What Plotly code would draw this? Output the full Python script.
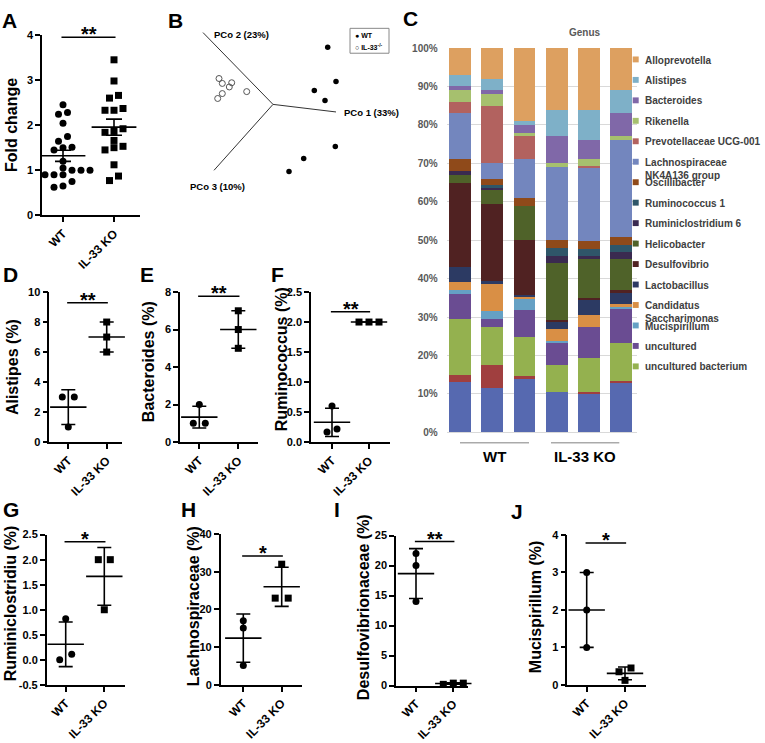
import numpy as np
import plotly.graph_objects as go

W, H = 765, 743
FONT = "Liberation Sans, Arial, Helvetica, sans-serif"

groups = ["WT", "IL-33 KO"]

# ---------------- Panel A : fold change (mean +/- SEM) ----------------
fold_change_wt = [2.45, 2.28, 2.24, 2.04, 1.75, 1.64, 1.51, 1.5, 1.45, 1.2, 1.05,
                  1.0, 1.0, 1.0, 0.9, 0.9, 0.9, 0.88, 0.75, 0.65, 0.62]
fold_change_ko = [3.45, 2.98, 2.66, 2.6, 2.37, 2.33, 2.33, 1.92, 1.86, 1.84, 1.66,
                  1.53, 1.5, 1.45, 1.12, 0.87, 0.77]

# ---------------- Panels D-J : relative abundance (mean +/- SD) ----------------
alistipes_wt = [3.0, 3.0, 1.0]
alistipes_ko = [8.0, 7.0, 6.0]
bacteroides_wt = [2.0, 1.0, 1.0]
bacteroides_ko = [7.0, 6.0, 5.0]
ruminococcus_wt = [0.6, 0.22, 0.17]
ruminococcus_ko = [2.0, 2.0, 2.0]
ruminiclostridium_wt = [0.82, 0.11, 0.0]
ruminiclostridium_ko = [2.0, 2.0, 1.0]
lachnospiraceae_wt = [17.0, 15.1, 5.1]
lachnospiraceae_ko = [32.0, 23.0, 23.0]
desulfovibrionaceae_wt = [22.0, 20.0, 14.0]
desulfovibrionaceae_ko = [0.4, 0.4, 0.2]
mucispirillum_wt = [3.0, 2.0, 1.0]
mucispirillum_ko = [0.45, 0.35, 0.12]

# significance bar heights (data units) and labels
sig_heights = {"A": 3.95, "D": 9.28, "E": 7.77, "F": 2.17, "G": 2.36, "H": 34.2, "I": 24.0, "J": 3.79}
sig_labels = {"A": "**", "D": "**", "E": "**", "F": "**", "G": "*", "H": "*", "I": "**", "J": "*"}

# ---------------- Panel B : PCoA projection ----------------
pcoa_axis_names = ["PCo 1 (33%)", "PCo 2 (23%)", "PCo 3 (10%)"]
pcoa_axis_end_x = [0.63, -0.70, -0.59]
pcoa_axis_end_y = [-0.077, 0.73, -0.67]
pcoa_wt_x = [0.547, 0.63, 0.413, 0.52, 0.623, 0.307, 0.16]
pcoa_wt_y = [0.58, 0.233, 0.14, 0.04, -0.427, -0.55, -0.683]
pcoa_ko_x = [-0.54, -0.507, -0.413, -0.437, -0.263, -0.507, -0.553]
pcoa_ko_y = [0.263, 0.213, 0.22, 0.177, 0.13, 0.11, 0.06]

# ---------------- Panel C : genus composition (%) ----------------
samples = ["WT-1", "WT-2", "WT-3", "KO-1", "KO-2", "KO-3"]
genera = ["Other 1", "Other 2", "uncultured bacterium", "uncultured", "Mucispirillum",
          "Candidatus Saccharimonas", "Lactobacillus", "Desulfovibrio", "Helicobacter",
          "Ruminiclostridium 6", "Ruminococcus 1", "Oscillibacter",
          "Lachnospiraceae NK4A136 group", "Prevotellaceae UCG-001", "Rikenella",
          "Bacteroides", "Alistipes", "Alloprevotella"]
genus_in_legend = [False, False] + [True] * 16
genus_values = [
    [13.0, 11.5, 14.0, 10.5, 10.0, 13.0],   # Other 1
    [2.0, 6.0, 0.7, 0.1, 0.4, 0.3],         # Other 2
    [14.5, 10.0, 10.1, 6.8, 8.9, 9.9],      # uncultured bacterium
    [6.5, 2.0, 7.0, 6.0, 8.1, 9.1],         # uncultured
    [1.0, 2.0, 3.0, 0.4, 0.1, 0.4],         # Mucispirillum
    [2.0, 7.0, 0.3, 3.0, 2.9, 0.7],         # Candidatus Saccharimonas
    [4.0, 0.8, 0.7, 2.0, 4.1, 3.1],         # Lactobacillus
    [22.0, 20.0, 14.2, 0.4, 0.4, 0.5],      # Desulfovibrio
    [2.0, 4.0, 9.0, 14.8, 10.1, 8.0],       # Helicobacter
    [1.0, 0.3, 0.0, 2.0, 0.8, 2.0],         # Ruminiclostridium 6
    [0.0, 0.7, 0.0, 2.0, 2.0, 1.8],         # Ruminococcus 1
    [3.0, 1.7, 2.0, 2.0, 2.0, 2.1],         # Oscillibacter
    [12.0, 4.0, 10.0, 19.0, 19.2, 25.1],    # Lachnospiraceae NK4A136 group
    [3.0, 15.0, 6.0, 0.0, 0.2, 0.0],        # Prevotellaceae UCG-001
    [3.0, 3.0, 1.0, 1.0, 1.8, 1.0],         # Rikenella
    [1.0, 1.0, 2.0, 7.0, 5.0, 6.0],         # Bacteroides
    [3.0, 3.0, 1.0, 7.0, 8.0, 6.0],         # Alistipes
    [7.0, 8.0, 19.0, 16.0, 16.0, 11.0],     # Alloprevotella
]
genus_colors = ["#5669B0", "#A03F3F", "#94B14F", "#6A4C92", "#65A0C4", "#D98F45",
                "#2C3A63", "#502222", "#4F6229", "#3A2A50", "#2F5669", "#8F4A1A",
                "#7386BE", "#B2625F", "#A6C06E", "#8068A8", "#7EB0C8", "#DDA060"]


# ---------------- helpers ----------------
def px_x(x):
    return x / W


def px_y(y):
    return 1 - y / H


def swarm(values, ppu, spacing, tol_px=6.5):
    vals = np.asarray(values, float)
    order = np.argsort(vals, kind="stable")
    offs = np.zeros(len(vals))
    rows, cur = [], [order[0]]
    for i in order[1:]:
        if (vals[i] - vals[cur[0]]) * ppu < tol_px:
            cur.append(i)
        else:
            rows.append(cur)
            cur = [i]
    rows.append(cur)
    for r in rows:
        n = len(r)
        for k, i in enumerate(r):
            offs[i] = (k - (n - 1) / 2) * spacing
    return offs


def ax_names(n):
    s = "" if n == 1 else str(n)
    return "x" + s, "y" + s, "xaxis" + s, "yaxis" + s


fig = go.Figure()
axes = {}
annotations = []
shapes = []


def text(x, y, t, size, **kw):
    d = dict(x=px_x(x), y=px_y(y), xref="paper", yref="paper", text=t, showarrow=False,
             font=dict(family=FONT, size=size, color=kw.pop("color", "black"),
                       weight=kw.pop("weight", "bold")))
    d.update(kw)
    annotations.append(d)


# ---------------- dot plots ----------------
panels = [
    dict(key="A", ax=1, wt=fold_change_wt, ko=fold_change_ko, L=42, R=140, w=63, k=114,
         top=29.5, bot=212.7, yr=[0, 4], dtick=1, fmt=None, err="sem",
         title="Fold change", tx=11, ty=121, spacing=9, mlen=32, cap=8),
    dict(key="D", ax=4, wt=alistipes_wt, ko=alistipes_ko, L=49.3, R=122, w=68.3, k=106.7,
         top=290.7, bot=443.3, yr=[0, 10], dtick=2, fmt=None, err="sd",
         title="Alistipes (%)", tx=12, ty=367, spacing=12, mlen=26, cap=7),
    dict(key="E", ax=5, wt=bacteroides_wt, ko=bacteroides_ko, L=180, R=258, w=199.3, k=238.3,
         top=290.7, bot=443.3, yr=[0, 8], dtick=2, fmt=None, err="sd",
         title="Bacteroides (%)", tx=148, ty=362, spacing=12, mlen=26, cap=7),
    dict(key="F", ax=6, wt=ruminococcus_wt, ko=ruminococcus_ko, L=311, R=390, w=332, k=369,
         top=290.7, bot=443.3, yr=[0, 2.5], dtick=0.5, fmt=".1f", err="sd",
         title="Ruminococcus (%)", tx=281, ty=359, spacing=10, mlen=26, cap=7),
    dict(key="G", ax=7, wt=ruminiclostridium_wt, ko=ruminiclostridium_ko, L=46.7, R=125, w=65.7, k=104.3,
         top=537.3, bot=690, yr=[-0.5, 2.5], dtick=0.5, fmt=".1f", err="sd",
         title="Ruminiclostridiu (%)", tx=10, ty=607, spacing=12, mlen=26, cap=7),
    dict(key="H", ax=8, wt=lachnospiraceae_wt, ko=lachnospiraceae_ko, L=220.7, R=301.7, w=243.3, k=281.7,
         top=536.7, bot=690, yr=[0, 40], dtick=10, fmt=None, err="sd",
         title="Lachnospiraceae (%)", tx=193, ty=610, spacing=13, mlen=26, cap=7),
    dict(key="I", ax=9, wt=desulfovibrionaceae_wt, ko=desulfovibrionaceae_ko, L=396, R=467.7, w=416, k=453.3,
         top=538.3, bot=690.7, yr=[0, 25], dtick=5, fmt=None, err="sd",
         title="Desulfovibrionaceae (%)", tx=363, ty=611, spacing=10, mlen=26, cap=7),
    dict(key="J", ax=10, wt=mucispirillum_wt, ko=mucispirillum_ko, L=567.3, R=645.7, w=586.7, k=625,
         top=537.7, bot=690, yr=[0, 4], dtick=1, fmt=None, err="sd",
         title="Mucispirillum (%)", tx=535, ty=611, spacing=12, mlen=26, cap=7),
]

for p in panels:
    xr, yr_, xa, ya = ax_names(p["ax"])
    unit = p["k"] - p["w"]
    xrange = [(p["L"] - p["w"]) / unit, (p["R"] - p["w"]) / unit]
    ppu = (p["bot"] - p["top"]) / (p["yr"][1] - p["yr"][0])
    for gi, (vals, sym) in enumerate([(p["wt"], "circle"), (p["ko"], "square")]):
        offs = swarm(vals, ppu, p["spacing"] / unit)
        fig.add_trace(go.Scatter(x=gi + offs, y=vals, mode="markers",
                                 marker=dict(symbol=sym, size=7, color="black", line=dict(width=0)),
                                 xaxis=xr, yaxis=yr_, showlegend=False, cliponaxis=False,
                                 name=groups[gi]))
    means, errs = [], []
    for vals in (p["wt"], p["ko"]):
        v = np.asarray(vals, float)
        means.append(v.mean())
        sd = v.std(ddof=1)
        errs.append(sd / np.sqrt(len(v)) if p["err"] == "sem" else sd)
    fig.add_trace(go.Scatter(x=[0, 1], y=means, mode="markers",
                             marker=dict(symbol="line-ew", size=p["mlen"], color="black",
                                         line=dict(width=1.6, color="black")),
                             error_y=dict(type="data", array=errs, visible=True, thickness=1.6,
                                          width=p["cap"], color="black"),
                             xaxis=xr, yaxis=yr_, showlegend=False, cliponaxis=False))
    sig = sig_heights[p["key"]]
    fig.add_trace(go.Scatter(x=[-0.03, 1.03], y=[sig, sig], mode="lines",
                             line=dict(color="black", width=1.5),
                             xaxis=xr, yaxis=yr_, showlegend=False, cliponaxis=False))
    annotations.append(dict(x=0.5, y=sig, xref=xr, yref=yr_, text=sig_labels[p["key"]],
                            showarrow=False, yanchor="bottom", yshift=-10,
                            font=dict(family=FONT, size=20, color="black", weight="bold")))
    tickfont = dict(family=FONT, size=11, color="black", weight="bold")
    yax = dict(domain=[px_y(p["bot"]), px_y(p["top"])], range=p["yr"], anchor=xr,
               showline=True, linecolor="black", linewidth=1.5, ticks="outside", ticklen=5,
               tickwidth=1.5, tickcolor="black", showgrid=False, zeroline=False, tickfont=tickfont)
    tv = np.arange(p["yr"][0], p["yr"][1] + p["dtick"] / 2, p["dtick"])
    yax["tickvals"] = list(tv)
    yax["ticktext"] = [(format(v, p["fmt"]) if p["fmt"] else str(int(round(v)))) for v in tv]
    axes[ya] = yax
    axes[xa] = dict(domain=[px_x(p["L"]), px_x(p["R"])], range=xrange, anchor=yr_,
                    tickvals=[0, 1], ticktext=groups, tickangle=-45, showline=True,
                    linecolor="black", linewidth=1.5, ticks="outside", ticklen=5, tickwidth=1.5,
                    tickcolor="black", showgrid=False, zeroline=False,
                    tickfont=dict(family=FONT, size=12, color="black", weight="bold"))
    text(p["tx"], p["ty"], p["title"], 16, textangle=-90, xanchor="center", yanchor="middle")

# ---------------- Panel B ----------------
bx, by = [], []
for ex, ey in zip(pcoa_axis_end_x, pcoa_axis_end_y):
    bx += [0, ex, None]
    by += [0, ey, None]
fig.add_trace(go.Scatter(x=bx, y=by, mode="lines", line=dict(color="#333333", width=1),
                         xaxis="x2", yaxis="y2", showlegend=False))
fig.add_trace(go.Scatter(x=pcoa_wt_x, y=pcoa_wt_y, mode="markers", name="WT",
                         marker=dict(symbol="circle", size=5.5, color="black"),
                         xaxis="x2", yaxis="y2", showlegend=False))
fig.add_trace(go.Scatter(x=pcoa_ko_x, y=pcoa_ko_y, mode="markers", name="IL-33-/-",
                         marker=dict(symbol="circle-open", size=6, color="#555555", line=dict(width=1)),
                         xaxis="x2", yaxis="y2", showlegend=False))
axes["xaxis2"] = dict(domain=[px_x(185), px_x(365)], range=[-0.88, 0.92], visible=False, anchor="y2")
axes["yaxis2"] = dict(domain=[px_y(200), px_y(20)], range=[-1.0, 0.8], visible=False, anchor="x2")
b_label_pos = [(0.69, -0.08), (-0.61, 0.71), (-0.85, -0.83)]
for name, (lx, ly) in zip(pcoa_axis_names, b_label_pos):
    annotations.append(dict(x=lx, y=ly, xref="x2", yref="y2", text=name, showarrow=False,
                            xanchor="left", yanchor="middle",
                            font=dict(family=FONT, size=9.5, color="black", weight="bold")))
# small legend box for B
shapes.append(dict(type="rect", xref="paper", yref="paper", x0=px_x(350), x1=px_x(389),
                   y0=px_y(48), y1=px_y(22.7), line=dict(color="#888888", width=1), fillcolor="white"))
text(353, 29.5, "● WT", 7, xanchor="left", yanchor="middle")
text(353, 41.5, "○ IL-33<sup>-/-</sup>", 7, xanchor="left", yanchor="middle")

# ---------------- Panel C ----------------
for name, vals, col, leg in zip(genera, genus_values, genus_colors, genus_in_legend):
    fig.add_trace(go.Bar(x=samples, y=vals, name=name, marker=dict(color=col, line=dict(width=0)),
                         xaxis="x3", yaxis="y3", showlegend=False))
axes["xaxis3"] = dict(domain=[px_x(446.7), px_x(636.7)], range=[-0.41, 5.48], anchor="y3",
                      showticklabels=False, showline=True, linecolor="#d9d9d9", linewidth=1,
                      ticks="", showgrid=False, zeroline=False)
axes["yaxis3"] = dict(domain=[px_y(433.3), px_y(42.7)], range=[0, 100], anchor="x3",
                      dtick=10, ticksuffix="%", showgrid=True, gridcolor="#d9d9d9", gridwidth=1,
                      showline=False, zeroline=False, ticks="", ticklabelstandoff=8,
                      tickfont=dict(family=FONT, size=10, color="#595959", weight="bold"))
text(585, 26.5, "Genus", 10, color="#595959", xanchor="center", yanchor="middle")
# legend (top to bottom = reverse of stacking)
legend_items = [(g, c) for g, c, l in zip(genera, genus_colors, genus_in_legend) if l][::-1]
for i, (g, c) in enumerate(legend_items):
    yc = 54.3 + 20.8 * i
    shapes.append(dict(type="rect", xref="paper", yref="paper", x0=px_x(632.7), x1=px_x(638.7),
                       y0=px_y(yc + 3), y1=px_y(yc - 3), line=dict(width=0), fillcolor=c))
    label = g.replace(" NK4A136", "<br>NK4A136").replace("Candidatus ", "Candidatus<br>")
    text(643, yc - 7, label, 10, color="#404040", xanchor="left", yanchor="top", align="left")
# group brackets under C
for (x0, x1), lab in zip([(460, 529), (551, 619.3)], groups):
    shapes.append(dict(type="line", xref="paper", yref="paper", x0=px_x(x0), x1=px_x(x1),
                       y0=px_y(444), y1=px_y(444), line=dict(color="#808080", width=1)))
    text((x0 + x1) / 2, 458, lab, 15, xanchor="center", yanchor="middle")

# ---------------- panel letters ----------------
for lab, (lx, ly) in {"A": (9, 15), "B": (175, 15), "C": (410, 13), "D": (10, 273),
                      "E": (147, 273), "F": (277, 273), "G": (11, 512), "H": (188, 512),
                      "I": (337, 512), "J": (517, 514)}.items():
    text(lx, ly, lab, 21, xanchor="center", yanchor="middle")

fig.update_layout(width=W, height=H, margin=dict(l=0, r=0, t=0, b=0), autosize=False,
                  paper_bgcolor="white", plot_bgcolor="white", showlegend=False,
                  barmode="stack", bargap=0.33, font=dict(family=FONT),
                  annotations=annotations, shapes=shapes, **axes)
fig.write_html("out.html", config={"displayModeBar": False},
               post_script="document.body.style.margin='0px';document.body.style.overflow='hidden';")
